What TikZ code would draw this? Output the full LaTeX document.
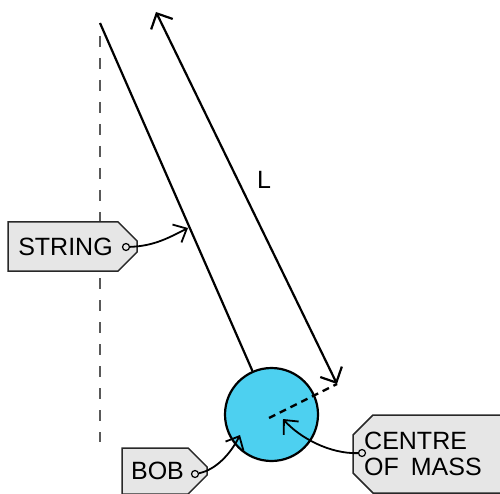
\documentclass[tikz,border=0pt]{standalone}
\usepackage{fontspec}
\setmainfont{Liberation Sans}
\usetikzlibrary{arrows.meta,shapes.misc}
\definecolor{bobblue}{RGB}{77,208,240}
\definecolor{tagfill}{RGB}{230,230,230}
\definecolor{tagline}{RGB}{40,40,40}
\begin{document}
\begin{tikzpicture}[x=1pt,y=-1pt,
  tagbox/.style={chamfered rectangle, draw=tagline, fill=tagfill, line width=1.5pt,
     chamfered rectangle xsep=10pt, chamfered rectangle ysep=10pt, inner sep=0pt,
     font=\fontsize{25}{28}\selectfont},
  hole/.style={circle, draw=black, fill=tagfill, line width=1.2pt, inner sep=0pt, minimum size=7pt},
  pointer/.style={line width=1.8pt, -{Straight Barb[length=11pt,width=20pt,line width=1.8pt]}},
  lab/.style={font=\fontsize{25}{28}\selectfont}]
\useasboundingbox (0,0) rectangle (500,494);
% pivot line (vertical, dashed)
\coordinate (pivot) at (100,23);
\coordinate (vtop) at (100,36);
\coordinate (vbot) at (100,442);
\draw[gray!70!black, line width=1.8pt, dash pattern=on 11pt off 11pt] (vtop) -- (vbot);
% bob
\node[circle, draw=black, fill=bobblue, line width=2.2pt, minimum size=93pt, inner sep=0pt] (bob) at (271.5,414.5) {};
\coordinate (bobc) at (269,418);
% string
\draw[line width=2.2pt] (pivot) -- (bob);
% length arrow
\coordinate (lt) at (156,12);
\coordinate (lb) at (337,384);
\draw[line width=2.2pt, {Straight Barb[length=12pt,width=24pt,line width=2.2pt]}-{Straight Barb[length=12pt,width=24pt,line width=2.2pt]}] (lt) -- (lb);
\draw[line width=2.4pt, dash pattern=on 7pt off 5pt] (bobc) -- (lb);
\node[lab] (L) at (264,180) {L};
% STRING tag
\node[tagbox, chamfered rectangle corners={north east,south east}, minimum width=129pt, minimum height=49pt] (tstr) at (72.5,246.5) {\hspace*{-14pt}STRING};
\node[hole] (hstr) at (126,247) {};
\coordinate (pstr) at (188,228);
\draw[pointer] (hstr) .. controls (155,246) and (170,237) .. (pstr);
% BOB tag
\node[tagbox, chamfered rectangle corners={north east,south east}, minimum width=85pt, minimum height=46pt] (tbob) at (164.5,471) {\hspace*{-14pt}BOB};
\node[hole] (hbob) at (195,474) {};
\coordinate (pbob) at (240,435);
\draw[pointer] (hbob) .. controls (215,470) and (230,455) .. (pbob);
% CENTRE OF MASS tag
\node[tagbox, chamfered rectangle corners={north west,south west}, minimum width=160pt, minimum height=78pt, align=left] (tcom) at (433,454) {\hspace*{-20pt}CENTRE\\[-2pt]\hspace*{-20pt}OF\hspace{12pt}MASS};
\node[hole] (hcom) at (362,453) {};
\coordinate (pcom) at (283,419);
\draw[pointer] (hcom) .. controls (330,454) and (300,438) .. (pcom);
\end{tikzpicture}
\end{document}
